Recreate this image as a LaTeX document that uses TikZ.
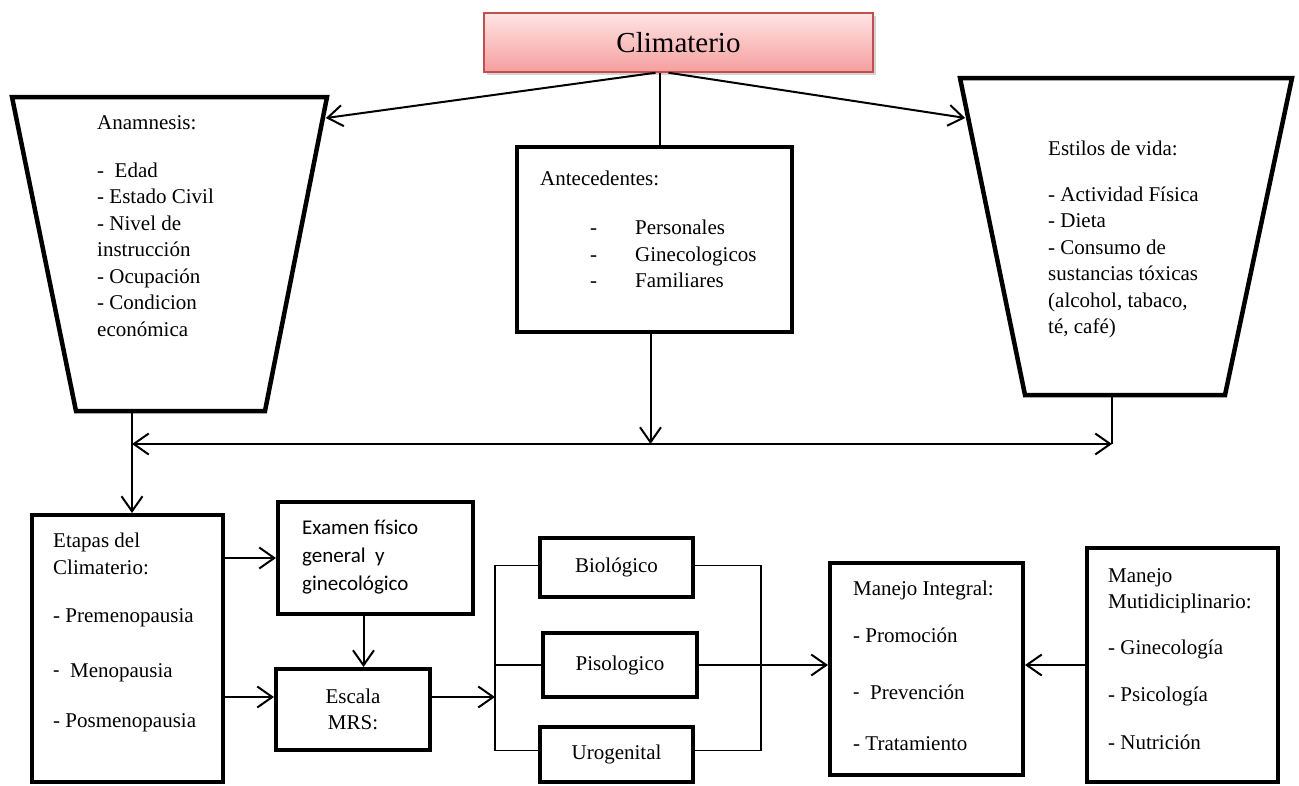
\documentclass[tikz,border=0pt]{standalone}
\usepackage{fontspec}
\setmainfont{Liberation Serif}
\newfontfamily\calib{Carlito}
\usetikzlibrary{arrows.meta, shadows, calc, positioning}
\definecolor{climtop}{RGB}{255,228,228}
\definecolor{climbot}{RGB}{245,158,158}
\definecolor{climline}{RGB}{192,80,77}
\tikzset{stagebox/.style={draw, line width=4pt, inner sep=0pt, font=\fontsize{21}{26.5}\selectfont},
    trapline/.style={draw, line width=4.5pt, line join=miter},
    connect/.style={draw, line width=2pt},
    bracket/.style={draw, line width=1.2pt},
    txt/.style={font=\fontsize{21}{26.5}\selectfont, align=left, inner sep=0pt, anchor=north west}}

\begin{document}
\begin{tikzpicture}[x=1pt, y=-1pt, >={Straight Barb[length=15pt,width=21pt]}]
    \useasboundingbox (0,0) rectangle (1299,785);

    % Title box
    \node[draw=climline, line width=1.5pt, top color=climtop, bottom color=climbot,
        drop shadow={opacity=0.35, shadow xshift=3pt, shadow yshift=-3pt},
        minimum width=389pt, minimum height=59pt, font=\fontsize{29}{32}\selectfont]
        (clim) at (678.5,42.5) {Climaterio};

    % Upper row
    \draw[trapline] (12,97) coordinate (anamNW) -- (327,97) coordinate (anamNE)
        -- (265,411) coordinate (anamSE) -- (76,411) coordinate (anamSW) -- cycle;
    \node[txt] (anamtxt) at (97,115) {Anamnesis:\\[21.5pt]
        -~ Edad\\- Estado Civil\\- Nivel de\\instrucción\\- Ocupación\\- Condicion\\económica};
    \node[stagebox, minimum width=275pt, minimum height=185pt] (ante) at (654.5,239.5) {};
    \node[txt] (antetxt) at (540,171) {Antecedentes:\\[22.5pt]
        \hspace*{50pt}\makebox[45pt][l]{-}Personales\\
        \hspace*{50pt}\makebox[45pt][l]{-}Ginecologicos\\
        \hspace*{50pt}\makebox[45pt][l]{-}Familiares};
    \draw[trapline] (960,78) coordinate (estNW) -- (1292,78) coordinate (estNE)
        -- (1225,395) coordinate (estSE) -- (1025,395) coordinate (estSW) -- cycle;
    \node[txt] (estilostxt) at (1048,141) {Estilos de vida:\\[19pt]
        - Actividad Física\\- Dieta\\- Consumo de\\sustancias tóxicas\\(alcohol, tabaco,\\té, café)};

    % Lower row
    \node[stagebox, minimum width=191pt, minimum height=267pt] (etapas) at (127.5,648.5) {};
    \node[txt] (etapastxt) at (53,533) {Etapas del\\Climaterio:\\[21.5pt]
        - Premenopausia\\[28.5pt]{\calib -}~~Menopausia\\[23.5pt]- Posmenopausia};
    \node[stagebox, minimum width=195pt, minimum height=112pt] (exam) at (375.5,558) {};
    \node[txt, font=\calib\fontsize{21}{28}\selectfont] (examtxt) at (302,520)
        {Examen físico\\general~ y\\ginecológico};
    \node[stagebox, minimum width=154pt, minimum height=81pt, align=center] (esc) at (353,709.5) {Escala\\MRS:};
    \node[stagebox, minimum width=153pt, minimum height=59pt] (bio) at (616.5,567.5) {Biológico};
    \node[stagebox, minimum width=154pt, minimum height=64pt] (piso) at (620,665) {Pisologico};
    \node[stagebox, minimum width=153pt, minimum height=55pt] (uro) at (616.5,754.5) {Urogenital};
    \node[stagebox, minimum width=193pt, minimum height=212pt] (integ) at (926.5,669) {};
    \node[txt] (integtxt) at (853,581) {Manejo Integral:\\[20.5pt]
        - Promoción\\[30.5pt]{\calib -}~~Prevención\\[24.5pt]- Tratamiento};
    \node[stagebox, minimum width=191pt, minimum height=234pt] (multi) at (1182.5,665) {};
    \node[txt] (multitxt) at (1108,568) {Manejo\\Mutidiciplinario:\\[19.5pt]
        - Ginecología\\[20.5pt]- Psicología\\[21.5pt]- Nutrición};

    % Connectors from the title
    \coordinate (hub) at ([xshift=-19pt]clim.south);
    \draw[connect] (hub) -- (hub |- ante.north);
    \draw[connect, ->] ([xshift=-4pt]hub) -- ($(anamNE)!0.067!(anamSE)+(3,0)$);
    \draw[connect, ->] ([xshift=9pt]hub) -- ($(estNW)!0.126!(estSW)+(-3,0)$);

    % Common line
    \coordinate (busL) at (132,444);
    \coordinate (busR) at (1112,444);
    \draw[connect, <->] (busL) -- (busR);
    \draw[connect, ->] (busL |- anamSW) -- (busL |- etapas.north);
    \draw[connect] (busR |- estSW) -- (busR);
    \draw[connect, ->] ([xshift=-4pt]ante.south) -- ([xshift=-4pt]ante.south |- busL);

    % Stages to exam and scale
    \coordinate (brL) at (495,697);
    \coordinate (brR) at (761,697);
    \draw[connect, ->] (etapas.east |- exam.west) -- (exam.west);
    \draw[connect, ->] (etapas.east |- brL) -- (esc.west |- brL);
    \draw[connect, ->] ([xshift=-12pt]exam.south) -- ([xshift=-12pt]exam.south |- esc.north);
    \draw[connect, ->] (esc.east |- brL) -- (brL);

    % Bracket round the three areas
    \draw[bracket] ([yshift=2pt]bio.west) -- ([yshift=2pt]bio.west -| brL) -- ([yshift=4pt]uro.west -| brL) -- ([yshift=4pt]uro.west);
    \draw[bracket] (piso.west) -- (piso.west -| brL);
    \draw[bracket] ([yshift=2pt]bio.east) -- ([yshift=2pt]bio.east -| brR) -- ([yshift=4pt]uro.east -| brR) -- ([yshift=4pt]uro.east);

    % Into integral management
    \draw[connect, ->] (piso.east) -- (piso.east -| integ.west);
    \draw[connect, ->] (multi.west) -- (multi.west -| integ.east);
\end{tikzpicture}
\end{document}
